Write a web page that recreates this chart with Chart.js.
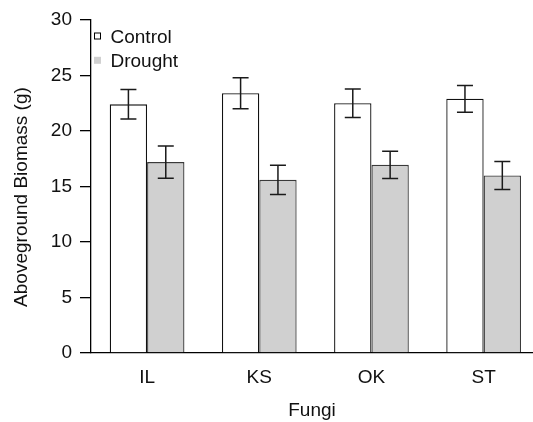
<!DOCTYPE html>
<html>
<head>
<meta charset="utf-8">
<script src="https://cdn.jsdelivr.net/npm/chart.js@4.4.1/dist/chart.umd.min.js"></script>
<style>
  html, body { margin: 0; padding: 0; background: #fff; }
  canvas { display: block; }
</style>
</head>
<body>
<canvas id="myChart" width="533" height="422"></canvas>
<script>
// values (mean and SE, grams)
const fungi = ['IL', 'KS', 'OK', 'ST'];
const controlMean = [22.4, 23.4, 22.5, 22.9];
const controlSE = [1.33, 1.39, 1.29, 1.2];
const droughtMean = [17.2, 15.6, 16.95, 16.0];
const droughtSE = [1.45, 1.32, 1.23, 1.26];
const yTicks = [0, 5, 10, 15, 20, 25, 30];

const FONT = '"Liberation Sans", Arial, Helvetica, sans-serif';

// error bars with caps, drawn from the y scale
const errorBars = {
  id: 'errorBars',
  afterDatasetsDraw(chart) {
    const ctx = chart.ctx;
    const yScale = chart.scales.y;
    ctx.save();
    ctx.strokeStyle = '#1a1a1a';
    ctx.lineWidth = 1.5;
    chart.data.datasets.forEach((ds, i) => {
      const meta = chart.getDatasetMeta(i);
      meta.data.forEach((bar, j) => {
        const v = ds.data[j].y;
        const se = ds.errors[j];
        const top = yScale.getPixelForValue(v + se);
        const bot = yScale.getPixelForValue(v - se);
        ctx.beginPath();
        ctx.moveTo(bar.x, top);
        ctx.lineTo(bar.x, bot);
        ctx.moveTo(bar.x - 8, top);
        ctx.lineTo(bar.x + 8, top);
        ctx.moveTo(bar.x - 8, bot);
        ctx.lineTo(bar.x + 8, bot);
        ctx.stroke();
      });
    });
    ctx.restore();
  }
};

// small legend in the top left corner of the plot
const cornerLegend = {
  id: 'cornerLegend',
  afterDraw(chart) {
    const ctx = chart.ctx;
    const area = chart.chartArea;
    ctx.save();
    ctx.font = '19px ' + FONT;
    ctx.textBaseline = 'middle';
    chart.data.datasets.forEach((ds, i) => {
      const cy = area.top + 16 + i * 24.3;
      const x = area.left + 3;
      ctx.fillStyle = ds.backgroundColor;
      ctx.fillRect(x, cy - 3.5, 7, 7);
      if (i === 0) {
        ctx.strokeStyle = '#000';
        ctx.lineWidth = 1;
        ctx.strokeRect(x + 0.5, cy - 3, 6, 6);
      }
      ctx.fillStyle = '#111';
      ctx.fillText(ds.label, x + 16.5, cy + 1.5);
    });
    ctx.restore();
  }
};

const data = {
  datasets: [
    {
      label: 'Control',
      data: controlMean.map((y, i) => ({ x: i + 1, y: y })),
      errors: controlSE,
      backgroundColor: '#ffffff',
      borderColor: '#111',
      borderWidth: 1.3
    },
    {
      label: 'Drought',
      data: droughtMean.map((y, i) => ({ x: i + 1, y: y })),
      errors: droughtSE,
      backgroundColor: '#d0d0d0',
      borderColor: '#3a3a3a',
      borderWidth: 1.3
    }
  ]
};

const config = {
  type: 'bar',
  data: data,
  options: {
    responsive: false,
    animation: false,
    categoryPercentage: 0.666,
    barPercentage: 1,
    layout: { padding: { top: 20, right: 0, bottom: 0, left: 0 } },
    plugins: {
      legend: { display: false },
      tooltip: { enabled: false }
    },
    scales: {
      x: {
        type: 'linear',
        offset: false,
        min: 0.5,
        max: 4.44,
        afterBuildTicks: (s) => { s.ticks = fungi.map((f, i) => ({ value: i + 1 })); },
        afterFit: (s) => { s.height = 69; },
        grid: { display: false, offset: false },
        border: { display: true, color: '#000', width: 1.3 },
        ticks: {
          color: '#111',
          padding: 5,
          font: { family: FONT, size: 19 },
          callback: (v, idx) => fungi[idx]
        },
        title: {
          display: true,
          text: 'Fungi',
          color: '#111',
          font: { family: FONT, size: 19 },
          padding: { top: 4, bottom: 0 }
        }
      },
      y: {
        min: 0,
        max: 30,
        afterBuildTicks: (s) => { s.ticks = yTicks.map(v => ({ value: v })); },
        afterFit: (s) => { s.width = 91; },
        grid: { drawOnChartArea: false, drawTicks: true, tickLength: 11, color: '#000', lineWidth: 1.3 },
        border: { display: true, color: '#000', width: 1.3 },
        ticks: {
          color: '#111',
          padding: 8,
          font: { family: FONT, size: 19 }
        },
        title: {
          display: true,
          // trailing spaces nudge the centred title a little lower, as in the figure
          text: 'Aboveground Biomass (g)    ',
          color: '#111',
          font: { family: FONT, size: 19 },
          padding: { top: 10, bottom: 0 }
        }
      }
    }
  },
  plugins: [errorBars, cornerLegend]
};

new Chart(document.getElementById('myChart'), config);
</script>
</body>
</html>
